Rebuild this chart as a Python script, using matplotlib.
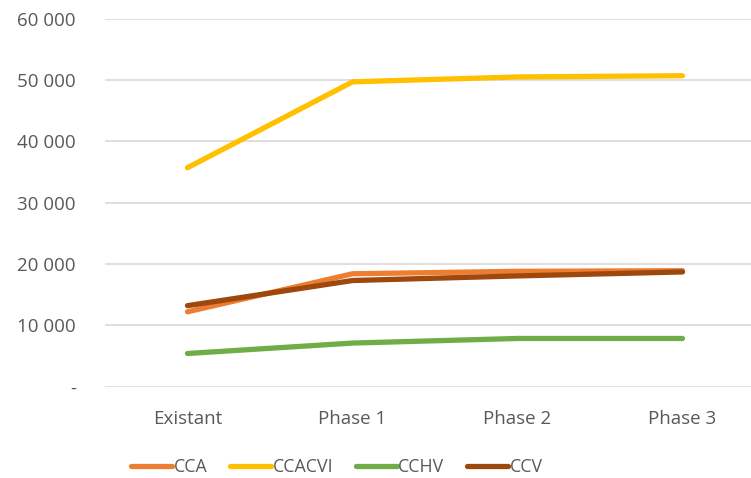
import matplotlib.pyplot as plt
from matplotlib.ticker import FuncFormatter

plt.rcParams["font.family"] = ["Open Sans", "DejaVu Sans"]

phases = ["Existant", "Phase 1", "Phase 2", "Phase 3"]
cca = [12200, 18400, 18800, 18900]
ccacvi = [35700, 49700, 50500, 50700]
cchv = [5400, 7100, 7850, 7850]
ccv = [13200, 17300, 18050, 18700]

series = [
    ("CCA", cca, "#ED7D31"),
    ("CCACVI", ccacvi, "#FFC000"),
    ("CCHV", cchv, "#70AD47"),
    ("CCV", ccv, "#9E480E"),
]

GRID = "#D9D9D9"
TXT = "#595959"

fig = plt.figure(figsize=(7.51, 4.78), dpi=100)
ax = fig.add_axes([105 / 751, 0.1912, 660 / 751, 0.7697])

x = range(len(phases))
for name, vals, col in series:
    ax.plot(x, vals, color=col, lw=3.8, solid_capstyle="round",
            solid_joinstyle="round", label=name, clip_on=False, zorder=3)

ax.set_xlim(-0.5, 3.5)
ax.set_ylim(0, 60000)
ax.set_yticks(range(0, 60001, 10000))
ax.yaxis.set_major_formatter(FuncFormatter(
    lambda v, p: "-" if v == 0 else f"{int(v):,}".replace(",", " ")))
ax.set_xticks(list(x))
ax.set_xticklabels(phases)
ax.grid(axis="y", color=GRID, lw=1.2)
ax.set_axisbelow(True)
ax.tick_params(length=0, labelsize=13.5, labelcolor=TXT)
ax.tick_params(axis="y", pad=21)
ax.tick_params(axis="x", pad=17)
for s in ax.spines.values():
    s.set_visible(False)

fig.legend(loc="lower center", bbox_to_anchor=(337 / 751, -0.03), ncol=4,
           frameon=False, fontsize=12.8, handlelength=2.3, handletextpad=0.1,
           columnspacing=1.25, labelcolor=TXT)

fig.savefig("out.png", dpi=100, facecolor="white")
